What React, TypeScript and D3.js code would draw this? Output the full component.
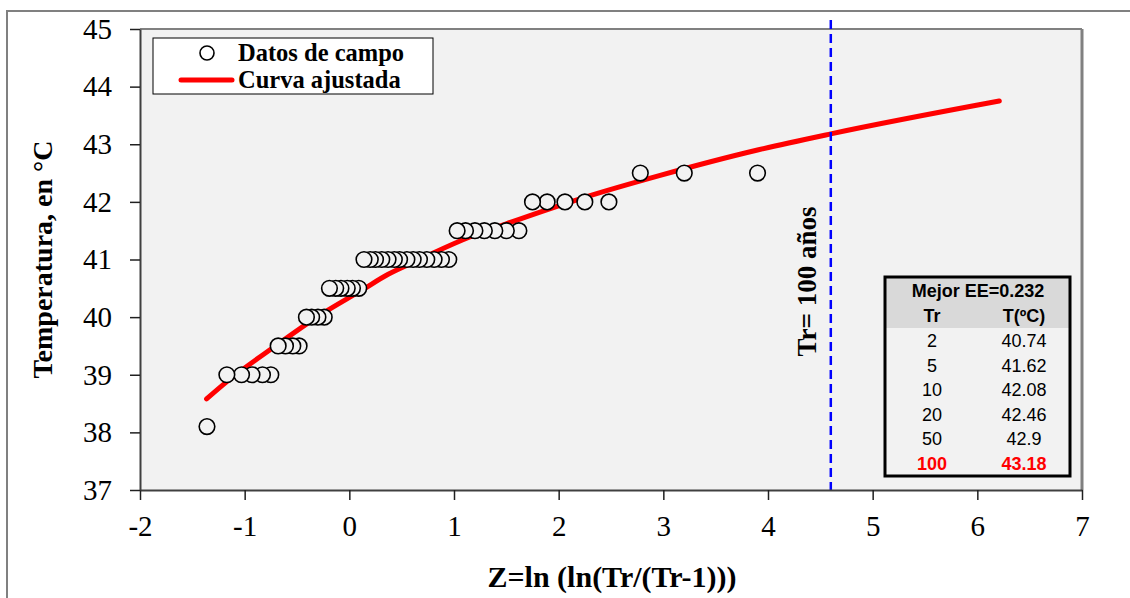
import React, { useEffect, useRef } from 'react';
import * as d3 from 'd3';

const width = 1130;
const height = 598;

// plot area
const margin = { top: 29, right: 48, bottom: 108, left: 140 };

// Datos de campo (Z, temperatura) - de mayor a menor
const fieldZ = [
  3.9, 3.2, 2.78,
  2.48, 2.25, 2.06, 1.89, 1.75,
  1.62, 1.5, 1.39, 1.29, 1.2, 1.11, 1.03,
  0.95, 0.88, 0.81, 0.74, 0.67, 0.61, 0.55, 0.48, 0.43, 0.37, 0.31, 0.25, 0.2, 0.14,
  0.09, 0.03, -0.02, -0.08, -0.13, -0.19,
  -0.24, -0.3, -0.36, -0.41,
  -0.48, -0.54, -0.61, -0.68,
  -0.75, -0.83, -0.93, -1.03, -1.17,
  -1.36,
];
const fieldT = [
  42.5, 42.5, 42.5,
  42, 42, 42, 42, 42,
  41.5, 41.5, 41.5, 41.5, 41.5, 41.5, 41.5,
  41, 41, 41, 41, 41, 41, 41, 41, 41, 41, 41, 41, 41, 41,
  40.5, 40.5, 40.5, 40.5, 40.5, 40.5,
  40, 40, 40, 40,
  39.5, 39.5, 39.5, 39.5,
  39, 39, 39, 39, 39,
  38.1,
];

// Curva ajustada
const curveZ = [-1.364, -1.17, -0.69, -0.31, 0.13, 0.367, 0.61, 1.15, 1.5, 2.25, 2.97, 3.9, 4.6, 6.21];
const curveT = [38.58, 38.88, 39.52, 40.0, 40.48, 40.74, 40.95, 41.39, 41.62, 42.08, 42.46, 42.9, 43.18, 43.75];

// tabla
const tableTr = ['2', '5', '10', '20', '50', '100'];
const tableT = ['40.74', '41.62', '42.08', '42.46', '42.9', '43.18'];

const xTicks = [-2, -1, 0, 1, 2, 3, 4, 5, 6, 7];
const yTicks = [37, 38, 39, 40, 41, 42, 43, 44, 45];
const zTr100 = 4.6;

const serif = '"Liberation Serif", "Times New Roman", serif';
const sans = '"Liberation Sans", Arial, sans-serif';

const App = () => {
  const xAxisRef = useRef<SVGGElement>(null);
  const yAxisRef = useRef<SVGGElement>(null);

  const xScale = d3.scaleLinear().domain([-2, 7]).range([margin.left, width - margin.right]);
  const yScale = d3.scaleLinear().domain([37, 45]).range([height - margin.bottom, margin.top]);

  useEffect(() => {
    const gx = d3.select(xAxisRef.current);
    gx.call(
      d3.axisBottom(xScale).tickValues(xTicks).tickFormat(d => String(d))
        .tickSize(10).tickSizeOuter(0).tickPadding(15)
    );
    gx.select('.domain').attr('stroke', '#404040').attr('stroke-width', 2);
    gx.selectAll('.tick line').attr('stroke', '#202020').attr('stroke-width', 1.5);
    gx.selectAll('.tick text')
      .style('font-family', serif)
      .style('font-size', '29px')
      .attr('fill', '#000');

    const gy = d3.select(yAxisRef.current);
    gy.call(
      d3.axisLeft(yScale).tickValues(yTicks).tickFormat(d => String(d))
        .tickSize(10).tickSizeOuter(0).tickPadding(18)
    );
    gy.select('.domain').attr('stroke', '#404040').attr('stroke-width', 2);
    gy.selectAll('.tick line').attr('stroke', '#202020').attr('stroke-width', 1.5);
    gy.selectAll('.tick text')
      .style('font-family', serif)
      .style('font-size', '29px')
      .attr('fill', '#000');
  });

  const line = d3
    .line<number>()
    .x(i => xScale(curveZ[i]))
    .y(i => yScale(curveT[i]))
    .curve(d3.curveMonotoneX);

  const x0 = margin.left;
  const x1 = width - margin.right;
  const y0 = margin.top;
  const y1 = height - margin.bottom;

  // table box
  const tb = { x: 885, y: 277, w: 185, h: 199 };
  const rowH = 24.6;

  return (
    <svg width={width} height={height} style={{ position: 'absolute', left: 0, top: 0 }}>
      <rect x={7} y={11} width={1140} height={600} fill="#fff" stroke="#808080" strokeWidth={2} />
      <rect x={x0} y={y0} width={x1 - x0} height={y1 - y0} fill="#f2f2f2" />
      <line x1={x0} y1={y0} x2={x1} y2={y0} stroke="#808080" strokeWidth={2} />
      <line x1={x1} y1={y0} x2={x1} y2={y1} stroke="#808080" strokeWidth={3} />

      <path d={line(curveZ.map((_, i) => i)) || ''} fill="none" stroke="#ff0000" strokeWidth={5} strokeLinecap="round" />

      {fieldZ.map((z, i) => (
        <circle key={i} cx={xScale(z)} cy={yScale(fieldT[i])} r={7.8} fill="#f2f2f2" stroke="#000" strokeWidth={1.6} />
      ))}

      <line
        x1={xScale(zTr100)}
        x2={xScale(zTr100)}
        y1={yScale(45) - 9}
        y2={yScale(37) + 5}
        stroke="#0000ff"
        strokeWidth={2.5}
        strokeDasharray="9,5"
      />
      <text
        transform={`translate(${xScale(zTr100) - 15}, ${(y0 + y1) / 2 + 22}) rotate(-90)`}
        textAnchor="middle"
        fontFamily={serif}
        fontWeight="bold"
        fontSize={27}
      >
        Tr= 100 años
      </text>

      <g ref={xAxisRef} transform={`translate(0, ${y1})`} />
      <g ref={yAxisRef} transform={`translate(${x0}, 0)`} />

      {/* legend */}
      <rect x={153} y={38} width={280} height={56} fill="#fff" stroke="#000" strokeWidth={1} />
      <circle cx={207} cy={53} r={7} fill="#fff" stroke="#000" strokeWidth={1.6} />
      <line x1={181} x2={232} y1={80} y2={80} stroke="#ff0000" strokeWidth={5} strokeLinecap="round" />
      <text x={238} y={61} fontFamily={serif} fontWeight="bold" fontSize={24.5}>Datos de campo</text>
      <text x={238} y={88} fontFamily={serif} fontWeight="bold" fontSize={24.5}>Curva ajustada</text>

      {/* table */}
      <rect x={tb.x} y={tb.y} width={tb.w} height={tb.h} fill="#f2f2f2" />
      <rect x={tb.x} y={tb.y} width={tb.w} height={51} fill="#d9d9d9" />
      <rect x={tb.x} y={tb.y} width={tb.w} height={tb.h} fill="none" stroke="#000" strokeWidth={3} />
      <text x={978} y={297} textAnchor="middle" fontFamily={sans} fontWeight="bold" fontSize={18}>Mejor EE=0.232</text>
      <text x={932} y={322} textAnchor="middle" fontFamily={sans} fontWeight="bold" fontSize={18}>Tr</text>
      <text x={1024} y={322} textAnchor="middle" fontFamily={sans} fontWeight="bold" fontSize={18}>T(ºC)</text>
      {tableTr.map((tr, i) => {
        const last = i === tableTr.length - 1;
        return (
          <g key={tr} fontFamily={sans} fontSize={18} fontWeight={last ? 'bold' : 'normal'} fill={last ? '#ff0000' : '#000'}>
            <text x={932} y={347 + i * rowH} textAnchor="middle">{tr}</text>
            <text x={1024} y={347 + i * rowH} textAnchor="middle">{tableT[i]}</text>
          </g>
        );
      })}

      {/* axis titles */}
      <text
        transform={`translate(52, ${(y0 + y1) / 2}) rotate(-90)`}
        textAnchor="middle"
        fontFamily={serif}
        fontWeight="bold"
        fontSize={28}
      >
        Temperatura, en °C
      </text>
      <text x={612} y={587} textAnchor="middle" fontFamily={serif} fontWeight="bold" fontSize={30}>
        Z=ln (ln(Tr/(Tr-1)))
      </text>
    </svg>
  );
};

export default App;
